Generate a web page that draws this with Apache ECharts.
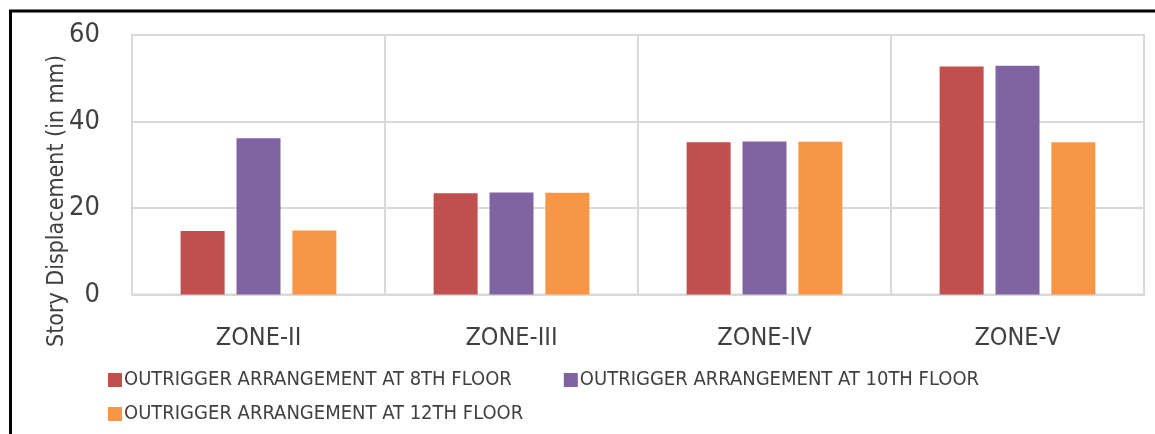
<!DOCTYPE html>
<html><head><meta charset="utf-8">
<script src="https://cdn.jsdelivr.net/npm/echarts@6/dist/echarts.min.js"></script>
<style>html,body{margin:0;padding:0;background:#fff}#c{width:1155px;height:434px}</style>
</head><body><div id="c"></div>
<script>
const categories = ['ZONE-II', 'ZONE-III', 'ZONE-IV', 'ZONE-V'];
const seriesNames = ['OUTRIGGER ARRANGEMENT AT 8TH FLOOR', 'OUTRIGGER ARRANGEMENT AT 10TH FLOOR', 'OUTRIGGER ARRANGEMENT AT 12TH FLOOR'];
const floor8 = [14.7, 23.4, 35.2, 52.7];
const floor10 = [36.1, 23.6, 35.4, 52.9];
const floor12 = [14.8, 23.5, 35.3, 35.2];
const yTicks = [0, 20, 40, 60];
const colors = ['#C0504D', '#8064A2', '#F79646'];
const font = "'DejaVu Sans Condensed', sans-serif";
const textColor = '#404040';

const chart = echarts.init(document.getElementById('c'));
const values = [floor8, floor10, floor12];
const legendText = { fontFamily: font, fontSize: 20, color: textColor, padding: [0,0,0,-3] };
chart.setOption({
  animation: false,
  textStyle: { fontFamily: font },
  grid: { left: 132, right: 11, top: 35, bottom: 139.5, show: true, borderColor: '#d9d9d9', borderWidth: 2 },
  legend: [
    { left: 103, top: 365, itemWidth: 14, itemHeight: 14, itemGap: 52, icon: 'rect',
      textStyle: legendText, data: seriesNames.slice(0, 2) },
    { left: 103, top: 399, itemWidth: 14, itemHeight: 14, icon: 'rect',
      textStyle: legendText, data: seriesNames.slice(2) }
  ],
  xAxis: {
    type: 'category', data: categories,
    axisLine: { lineStyle: { color: '#d9d9d9', width: 2 } },
    axisTick: { show: false },
    splitLine: { show: true, lineStyle: { color: '#d9d9d9', width: 2 } },
    axisLabel: { fontFamily: font, fontSize: 25, color: textColor, margin: 31 }
  },
  yAxis: {
    type: 'value', min: yTicks[0], max: yTicks[yTicks.length-1], interval: 20,
    axisLine: { show: false }, axisTick: { show: false },
    splitLine: { lineStyle: { color: '#d9d9d9', width: 2 } },
    axisLabel: { fontFamily: font, fontSize: 27, color: textColor, margin: 32 }
  },
  series: values.map((v, i) => ({
    name: seriesNames[i], type: 'bar', data: v, barWidth: 44, barGap: '27%',
    itemStyle: { color: colors[i] }
  })),
  graphic: [
    { type: 'rect', shape: { x: 10.5, y: 11, width: 1160, height: 440 },
      style: { fill: 'none', stroke: '#000', lineWidth: 3 }, silent: true },
    { type: 'text', x: 57, y: 201, rotation: Math.PI / 2,
      style: { text: 'Story Displacement (in mm)', fontFamily: font, fontSize: 23, fill: textColor,
               textAlign: 'center', textVerticalAlign: 'middle' } }
  ]
});
</script></body></html>
